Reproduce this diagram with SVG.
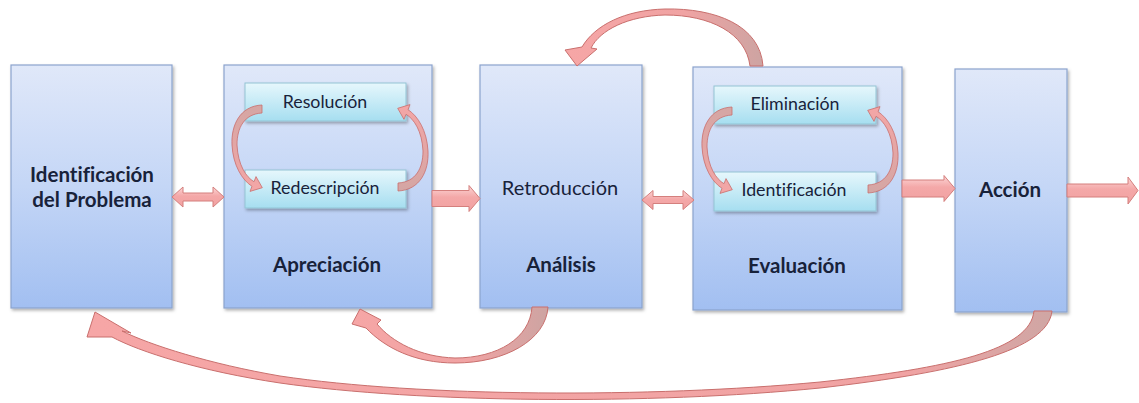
<svg xmlns="http://www.w3.org/2000/svg" xmlns:xlink="http://www.w3.org/1999/xlink" width="1139" height="403" viewBox="0 0 1139 403">
  <defs>
    <linearGradient id="stageFill" x1="0" y1="0" x2="0" y2="1">
      <stop offset="0" stop-color="#e0e8f9"/>
      <stop offset="0.5" stop-color="#c4d6f6"/>
      <stop offset="1" stop-color="#a2bff1"/>
    </linearGradient>
    <linearGradient id="stepFill" x1="0" y1="0" x2="0" y2="1">
      <stop offset="0" stop-color="#e6f7fc"/>
      <stop offset="1" stop-color="#a6def0"/>
    </linearGradient>
    <linearGradient id="blockFill" x1="0" y1="0" x2="0" y2="1">
      <stop offset="0" stop-color="#fcd6d6"/>
      <stop offset="0.45" stop-color="#f4a8a8"/>
      <stop offset="1" stop-color="#f1a2a2"/>
    </linearGradient>
    <linearGradient id="curveFill" x1="0" y1="0" x2="1" y2="0">
      <stop offset="0" stop-color="#f6a6a6"/>
      <stop offset="0.6" stop-color="#f0a3a3"/>
      <stop offset="1" stop-color="#cda4a2"/>
    </linearGradient>
    <linearGradient id="curveFillLong" x1="0" y1="0" x2="1" y2="0">
      <stop offset="0" stop-color="#f6a6a6"/>
      <stop offset="0.85" stop-color="#f0a3a3"/>
      <stop offset="1" stop-color="#cfa6a4"/>
    </linearGradient>
    <linearGradient id="loopFill" x1="0" y1="0" x2="0" y2="1">
      <stop offset="0" stop-color="#d4a6a4"/>
      <stop offset="1" stop-color="#f4a6a6"/>
    </linearGradient>
    <filter id="shadow" x="-10%" y="-10%" width="130%" height="130%">
      <feDropShadow dx="1.5" dy="2" stdDeviation="1.5" flood-color="#000" flood-opacity="0.3"/>
    </filter>
    <!-- loop arrow from an upper step box to the lower one (left side) -->
    <path id="loop" d="M 262,105 C 240,106 231,125 232,145 C 233,165 242,180 252,186.3 L 250,191.4 L 262.3,187.7 L 256,176.6 L 254,181.7 C 246,177 238,165 237,145 C 237,128 244,114 262,113 Z"/>
    <style>
      .stage { fill: url(#stageFill); stroke: #8ba3cd; stroke-width: 1.2; filter: url(#shadow); }
      .step { fill: url(#stepFill); stroke: #93c4d4; stroke-width: 1; filter: url(#shadow); }
      .block { fill: url(#blockFill); stroke: #d47f7d; stroke-width: 1; }
      .curve { stroke: #c96f6d; stroke-width: 1; }
      .loop { fill: url(#loopFill); stroke: #c96f6d; stroke-width: 0.8; }
      text { font-family: Lato, "Open Sans", sans-serif; fill: #18223a; text-anchor: middle; font-variant-ligatures: none; }
      .title { font-size: 20.5px; font-weight: bold; }
      .label { font-size: 17.8px; }
      .mid { font-size: 20px; }
    </style>
  </defs>

  <!-- stages -->
  <g id="identificacion-problema">
    <rect class="stage" x="11" y="65" width="161" height="243"/>
    <text class="title" x="92" y="182">Identificación</text>
    <text class="title" x="92" y="207">del Problema</text>
  </g>
  <g id="apreciacion">
    <rect class="stage" x="224" y="65" width="208" height="243"/>
    <text class="title" x="327" y="272">Apreciación</text>
  </g>
  <g id="resolucion">
    <rect class="step" x="245" y="83" width="161" height="38"/>
    <text class="label" x="325" y="108">Resolución</text>
  </g>
  <g id="redescripcion">
    <rect class="step" x="245" y="170" width="161" height="38"/>
    <text class="label" x="325" y="194">Redescripción</text>
  </g>
  <g id="analisis">
    <rect class="stage" x="480" y="65" width="162" height="243"/>
    <text class="mid" x="560" y="195">Retroducción</text>
    <text class="title" x="561" y="272">Análisis</text>
  </g>
  <g id="evaluacion">
    <rect class="stage" x="693" y="67" width="209" height="243"/>
    <text class="title" x="797" y="273">Evaluación</text>
  </g>
  <g id="eliminacion">
    <rect class="step" x="714" y="86" width="162" height="38"/>
    <text class="label" x="795" y="110">Eliminación</text>
  </g>
  <g id="identificacion">
    <rect class="step" x="714" y="172" width="162" height="39"/>
    <text class="label" x="794" y="196">Identificación</text>
  </g>
  <g id="accion">
    <rect class="stage" x="955" y="69" width="112" height="243"/>
    <text class="title" x="1010" y="197">Acción</text>
  </g>

  <!-- connectors -->
  <g id="connectors">
    <!-- straight block arrows -->
    <path class="block" d="M172,197 L183,187 L183,193 L213,193 L213,187 L224,197 L213,207 L213,201 L183,201 L183,207 Z"/>
    <path class="block" d="M432,190.5 L469,190.5 L469,185.5 L480,198.5 L469,211.5 L469,206.5 L432,206.5 Z"/>
    <path class="block" d="M642,200 L653,190.5 L653,196.5 L683,196.5 L683,190.5 L694,200 L683,209.5 L683,203.5 L653,203.5 L653,209.5 Z"/>
    <path class="block" d="M902,180 L944,180 L944,175.5 L955,188.5 L944,201.5 L944,197 L902,197 Z"/>
    <path class="block" d="M1067,184 L1128,184 L1128,177 L1138,190.5 L1128,204 L1128,197 L1067,197 Z"/>

    <!-- loops between the inner steps -->
    <use href="#loop" xlink:href="#loop" class="loop"/>
    <use href="#loop" xlink:href="#loop" class="loop" transform="rotate(180 330 148)"/>
    <use href="#loop" xlink:href="#loop" class="loop" transform="translate(470 2)"/>
    <use href="#loop" xlink:href="#loop" class="loop" transform="translate(470 2) rotate(180 330 148)"/>

    <!-- Evaluación back to Análisis (over the top) -->
    <path class="curve" fill="url(#curveFill)" d="M763,66 C760,25 715,8 665,9 C625,10 595,25 582,47 L565,50 L577,66 L597,49 L591,48 C600,30 628,16 665,15 C710,15 746,33 750,66 Z"/>

    <!-- Análisis back to Apreciación (below) -->
    <path class="curve" fill="url(#curveFill)" d="M548,307 C546,340 505,363 455,363 C415,363 385,348 366,328 L352,324 L360,309 L381,320 L377,324 C392,342 420,357 455,358 C498,358 530,338 532,307 Z"/>

    <!-- Acción back to Identificación del Problema -->
    <path class="curve" fill="url(#curveFillLong)" d="M1052,311 C1048,350 960,372 820,388 C650,405 420,403 280,383 C200,371 140,352 112,337 L87,337 L95,312 L131,333 L122,331 C150,345 210,364 280,376 C420,397 650,398 820,382 C950,368 1030,350 1034,311 Z"/>
  </g>
</svg>
